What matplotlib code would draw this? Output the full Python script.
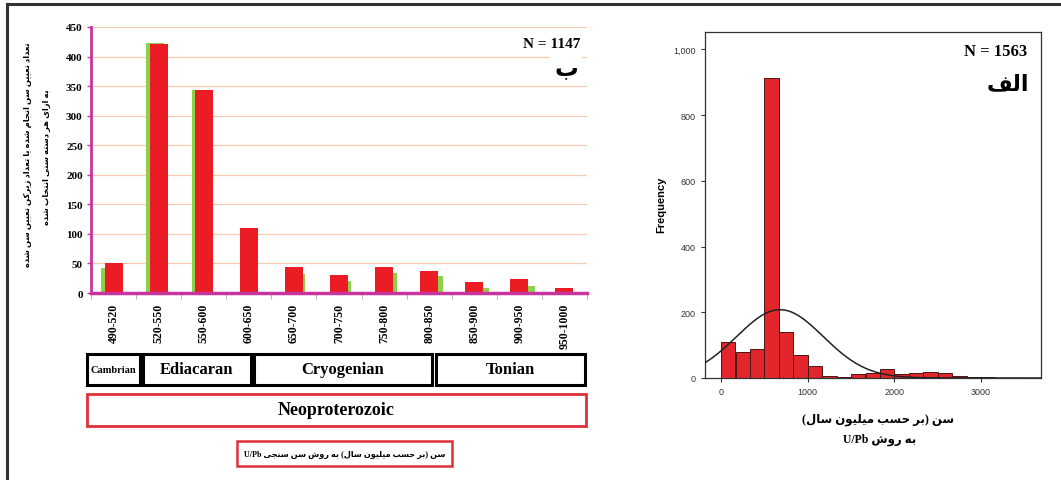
import re
import numpy as np
import matplotlib
matplotlib.use('Agg')
import matplotlib.pyplot as plt
from matplotlib.patches import Rectangle
from matplotlib.lines import Line2D
from matplotlib.ticker import FuncFormatter

# ---------------- data ----------------
age_bins = ['490-520', '520-550', '550-600', '600-650', '650-700', '700-750',
            '750-800', '800-850', '850-900', '900-950', '950-1000']
red_counts = [51, 421, 343, 110, 44, 31, 44, 37, 18, 24, 9]
green_counts = [42, 423, 344, 110, 32, 20, 34, 28, 8, 12, 0]

hist_left_edges = [0, 167, 333, 500, 667, 833, 1000, 1167, 1333, 1500, 1667,
                   1833, 2000, 2167, 2333, 2500, 2667, 2833, 3000]
hist_counts = [111, 79, 89, 913, 140, 71, 35, 7, 4, 13, 16, 28, 11, 15, 18,
               15, 7, 2, 3]
hist_bin_width = 166.7
fit_mean = 680
fit_sd = 500
n_right = 1563
n_left = 1147

periods = ['Cambrian', 'Ediacaran', 'Cryogenian', 'Tonian']
era = 'Neoproterozoic'

ylabel_left_1 = 'تعداد تعیین سن انجام شده یا تعداد زیرکن تعیین سن شده'
ylabel_left_2 = 'به ازای هر دسته سنی انتخاب شده'
caption_left = 'سن (بر حسب میلیون سال) به روش سن سنجی U/Pb'
xlabel_right_1 = 'سن (بر حسب میلیون سال)'
xlabel_right_2 = 'به روش U/Pb'
panel_left = 'ب'
panel_right = 'الف'

# ---------------- minimal Arabic/Persian shaping ----------------
FORMS = {
    '\u0627': ('\uFE8D', '\uFE8E', None, None),
    '\u0628': ('\uFE8F', '\uFE90', '\uFE91', '\uFE92'),
    '\u062A': ('\uFE95', '\uFE96', '\uFE97', '\uFE98'),
    '\u062C': ('\uFE9D', '\uFE9E', '\uFE9F', '\uFEA0'),
    '\u062D': ('\uFEA1', '\uFEA2', '\uFEA3', '\uFEA4'),
    '\u062E': ('\uFEA5', '\uFEA6', '\uFEA7', '\uFEA8'),
    '\u062F': ('\uFEA9', '\uFEAA', None, None),
    '\u0631': ('\uFEAD', '\uFEAE', None, None),
    '\u0632': ('\uFEAF', '\uFEB0', None, None),
    '\u0633': ('\uFEB1', '\uFEB2', '\uFEB3', '\uFEB4'),
    '\u0634': ('\uFEB5', '\uFEB6', '\uFEB7', '\uFEB8'),
    '\u0639': ('\uFEC9', '\uFECA', '\uFECB', '\uFECC'),
    '\u0641': ('\uFED1', '\uFED2', '\uFED3', '\uFED4'),
    '\u0644': ('\uFEDD', '\uFEDE', '\uFEDF', '\uFEE0'),
    '\u0645': ('\uFEE1', '\uFEE2', '\uFEE3', '\uFEE4'),
    '\u0646': ('\uFEE5', '\uFEE6', '\uFEE7', '\uFEE8'),
    '\u0647': ('\uFEE9', '\uFEEA', '\uFEEB', '\uFEEC'),
    '\u0648': ('\uFEED', '\uFEEE', None, None),
    '\u06CC': ('\uFBFC', '\uFBFD', '\uFBFE', '\uFBFF'),
    '\u06A9': ('\uFB8E', '\uFB8F', '\uFB90', '\uFB91'),
}


def shape(s):
    out = []
    for i, c in enumerate(s):
        if c not in FORMS:
            out.append(c)
            continue
        iso, fin, ini, med = FORMS[c]
        prev = s[i - 1] if i > 0 else ''
        nxt = s[i + 1] if i + 1 < len(s) else ''
        jp = prev in FORMS and FORMS[prev][2] is not None
        jn = nxt in FORMS and ini is not None
        if jp and jn:
            out.append(med)
        elif jp:
            out.append(fin)
        elif jn:
            out.append(ini)
        else:
            out.append(iso)
    return ''.join(out)


def rtl(s):
    v = shape(s)[::-1]
    v = v.translate({ord('('): ')', ord(')'): '('})
    v = re.sub(r'[A-Za-z0-9/.=]+', lambda m: m.group(0)[::-1], v)
    return v


# ---------------- figure ----------------
W, H = 1061, 481
fig = plt.figure(figsize=(W / 100, H / 100), dpi=100)
fig.patch.set_facecolor('white')


def fx(x):
    return x / W


def fy(y):
    return 1 - y / H


SERIF = ['Liberation Serif', 'DejaVu Serif']
ARAB = ['Liberation Serif', 'DejaVu Sans']
MAGENTA = '#C8359E'
RED = '#EC1C24'
GREEN = '#8DD04A'

# frame lines (top & left)
fig.add_artist(Line2D([fx(7), fx(1061)], [fy(5), fy(5)], color='#333333', lw=2.2,
                      transform=fig.transFigure))
fig.add_artist(Line2D([fx(7), fx(7)], [fy(5), fy(481)], color='#333333', lw=2.2,
                      transform=fig.transFigure))

# ---------- left panel ----------
axL = fig.add_axes([fx(91), fy(294), (587 - 91) / W, (294 - 28) / H])
x = np.arange(len(age_bins))
shift = 0.016 * (x - 3) + 0.04 * np.sign(x - 3)
axL.bar(x + shift, green_counts, width=0.4, color=GREEN, zorder=2)
axL.bar(x, red_counts, width=0.4, color=RED, zorder=3)
axL.set_xlim(-0.5, len(age_bins) - 0.5)
axL.set_ylim(0, 450)
axL.set_yticks(np.arange(0, 451, 50))
axL.yaxis.grid(True, color='#F6CDB0', lw=0.9, zorder=0)
axL.set_axisbelow(True)
for sp in ['top', 'right']:
    axL.spines[sp].set_visible(False)
axL.spines['left'].set_color(MAGENTA)
axL.spines['left'].set_linewidth(2)
axL.spines['bottom'].set_color(MAGENTA)
axL.spines['bottom'].set_linewidth(2.5)
axL.spines['bottom'].set_zorder(5)
axL.tick_params(axis='y', colors=MAGENTA, length=3, width=1, labelcolor='black',
                pad=3)
for t in axL.get_yticklabels():
    t.set_family(SERIF)
    t.set_fontweight('bold')
    t.set_fontsize(8)
axL.set_xticks(x)
axL.set_xticklabels(age_bins, rotation=90, family=SERIF, fontweight='bold',
                    fontsize=8.5, va='top')
axL.set_xticks(np.arange(-0.5, len(age_bins), 1), minor=True)
axL.tick_params(axis='x', which='major', length=0, pad=7)
axL.tick_params(axis='x', which='minor', length=4, color='#BBBBBB', width=0.8)

fig.text(fx(580), fy(45), f'N = {n_left}', family=SERIF, fontweight='bold',
         fontsize=11, ha='right', va='center')
fig.text(fx(578), fy(70), rtl(panel_left), family=ARAB, fontweight='bold',
         fontsize=17, ha='right', va='center',
         bbox=dict(facecolor='white', edgecolor='none', pad=3))

# left y label (two rotated lines)
fig.text(fx(28), fy(155), rtl(ylabel_left_1), family=ARAB, fontweight='bold',
         fontsize=6, rotation=90, ha='center', va='center')
fig.text(fx(47), fy(157), rtl(ylabel_left_2), family=ARAB, fontweight='bold',
         fontsize=6, rotation=90, ha='center', va='center')

# period boxes
boxes = [(87, 140), (143, 251), (254, 432), (436, 585)]
sizes = [7.5, 12, 12, 12]
for (x0, x1), name, fs in zip(boxes, periods, sizes):
    fig.add_artist(Rectangle((fx(x0), fy(386)), (x1 - x0) / W, (386 - 355) / H,
                             transform=fig.transFigure, fill=False,
                             edgecolor='black', lw=2.2))
    fig.text(fx((x0 + x1) / 2), fy(370.5), name, family=SERIF, fontweight='bold',
             fontsize=fs, ha='center', va='center')

fig.add_artist(Rectangle((fx(87), fy(427)), (586 - 87) / W, (427 - 395) / H,
                         transform=fig.transFigure, fill=False,
                         edgecolor='#E0303A', lw=2))
fig.text(fx(336), fy(411), era, family=SERIF, fontweight='bold', fontsize=13,
         ha='center', va='center')

fig.add_artist(Rectangle((fx(237), fy(467)), (452 - 237) / W, (467 - 442) / H,
                         transform=fig.transFigure, fill=False,
                         edgecolor='#E0303A', lw=1.8))
fig.text(fx(344.5), fy(454.5), rtl(caption_left), family=ARAB, fontweight='bold',
         fontsize=5.9, ha='center', va='center')

# ---------- right panel ----------
axR = fig.add_axes([fx(705), fy(379), (1041 - 705) / W, (379 - 33) / H])
axR.bar(hist_left_edges, hist_counts, width=hist_bin_width, align='edge',
        color='#E2262C', edgecolor='#4A1515', lw=0.7, zorder=2)
xs = np.linspace(-185, 3692, 400)
curve = n_right * hist_bin_width / (fit_sd * np.sqrt(2 * np.pi)) * \
    np.exp(-0.5 * ((xs - fit_mean) / fit_sd) ** 2)
axR.plot(xs, curve, color='#222222', lw=1.1, zorder=3)
axR.set_xlim(-185, 3692)
axR.set_ylim(0, 1053)
axR.set_xticks([0, 1000, 2000, 3000])
axR.set_yticks(np.arange(0, 1001, 200))
axR.yaxis.set_major_formatter(FuncFormatter(lambda v, p: f'{v:,.0f}'))
axR.tick_params(labelsize=6.5, labelcolor='#333333', length=3, color='#333333',
                width=0.8)
for t in axR.get_xticklabels() + axR.get_yticklabels():
    t.set_family('Liberation Sans')
for sp in axR.spines.values():
    sp.set_color('#333333')
    sp.set_linewidth(0.9)

fig.text(fx(661), fy(205), 'Frequency', family='Liberation Sans', fontweight='bold',
         fontsize=8, rotation=90, ha='center', va='center')
fig.text(fx(1027), fy(52), f'N = {n_right}', family=SERIF, fontweight='bold',
         fontsize=12, ha='right', va='center')
fig.text(fx(1029), fy(85), rtl(panel_right), family=ARAB, fontweight='bold',
         fontsize=16, ha='right', va='center')
fig.text(fx(878), fy(420), rtl(xlabel_right_1), family=ARAB, fontweight='bold',
         fontsize=8.5, ha='center', va='center')
fig.text(fx(880), fy(440), rtl(xlabel_right_2), family=ARAB, fontweight='bold',
         fontsize=8.5, ha='center', va='center')

fig.savefig('out.png', dpi=100, facecolor='white')
